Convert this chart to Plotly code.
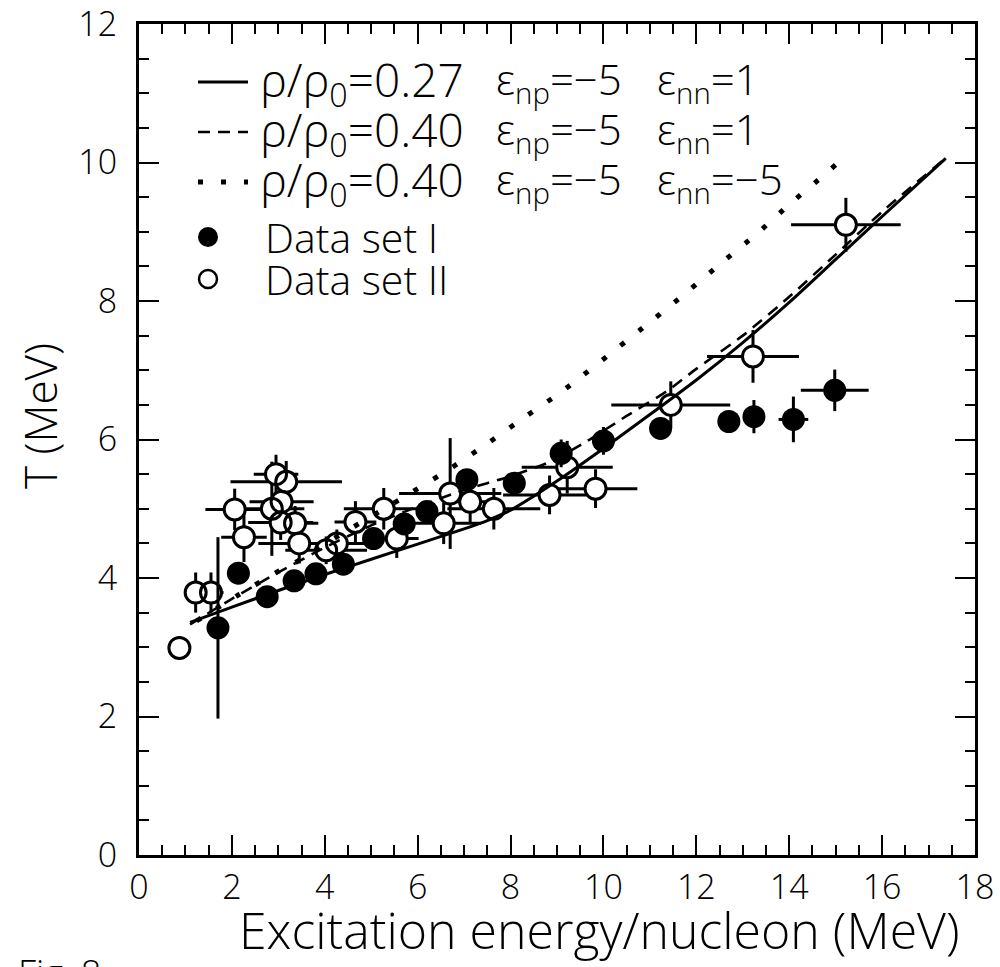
import plotly.graph_objects as go

# ---------------- data ----------------
set1_x = [1.70, 2.14, 2.76, 3.34, 3.81, 4.40, 5.05, 5.71, 6.20, 7.06, 8.08, 9.09, 10.00, 11.23, 12.70, 13.24, 14.09, 14.98]
set1_y = [3.28, 4.07, 3.73, 3.96, 4.06, 4.20, 4.57, 4.78, 4.96, 5.42, 5.37, 5.80, 5.98, 6.16, 6.26, 6.33, 6.29, 6.71]
set1_ex = [0, 0, 0, 0, 0, 0, 0, 0, 0, 0, 0, 0, 0, 0, 0, 0, 0.32, 0.73]
set1_ey = [1.31, 0, 0, 0, 0, 0, 0, 0, 0, 0, 0, 0.20, 0.20, 0, 0, 0.24, 0.33, 0.30]

set2_x = [0.87, 1.22, 1.55, 2.06, 2.26, 2.95, 3.17, 2.86, 3.07, 3.05, 3.36, 3.45, 4.03, 4.26, 4.66,
          5.27, 5.55, 6.56, 6.70, 7.13, 7.64, 8.84, 9.22, 9.83, 11.45, 13.22, 15.22]
set2_y = [2.99, 3.79, 3.79, 4.99, 4.59, 5.50, 5.39, 5.00, 5.10, 4.80, 4.79, 4.50, 4.40, 4.50, 4.81,
          5.00, 4.57, 4.79, 5.22, 5.10, 5.00, 5.20, 5.60, 5.29, 6.50, 7.20, 9.10]
set2_ex = [0, 0.22, 0.27, 0.63, 0.49, 0.48, 1.20, 0.70, 0.69, 0.70, 0.50, 0.88, 0.88, 0.68, 0.45,
           0.86, 0.47, 0.80, 1.10, 0.50, 1.00, 1.00, 0.98, 0.90, 1.28, 0.99, 1.18]
set2_ey = [0, 0.29, 0.29, 0.30, 0.36, 0.28, 0.30, 0.68, 0.25, 0.25, 0.25, 0.29, 0.20, 0.20, 0.30,
           0.30, 0.28, 0.30, 0.80, 0.30, 0.30, 0.28, 0.38, 0.28, 0.34, 0.38, 0.39]

solid_x = [1.1, 2, 3, 4, 5, 6, 7, 7.5, 8, 9, 10, 11, 12, 13, 14, 15, 16, 17.37]
solid_y = [3.36, 3.58, 3.82, 4.05, 4.27, 4.49, 4.71, 4.83, 4.98, 5.40, 5.87, 6.36, 6.86, 7.40, 7.98, 8.60, 9.22, 10.06]

dashed_x = [1.1, 2, 3, 4, 5, 6, 7, 8, 8.86, 9.63, 10.5, 11.37, 12, 13, 14, 15, 16, 17.4]
dashed_y = [3.33, 3.70, 4.08, 4.44, 4.76, 5.03, 5.27, 5.47, 5.68, 5.97, 6.34, 6.70, 7.02, 7.50, 8.06, 8.67, 9.29, 10.08]

dotted_x = [1.24, 2.10, 2.93, 3.36, 4.20, 5.88, 6.70, 7.52, 8.32, 9.12, 11.03, 11.80, 12.54, 13.30, 14.03, 14.77, 15.14]
dotted_y = [3.38, 3.74, 4.07, 4.22, 4.57, 5.24, 5.58, 5.95, 6.33, 6.70, 7.71, 8.13, 8.55, 8.97, 9.41, 9.83, 10.05]

x_ticks = [0, 2, 4, 6, 8, 10, 12, 14, 16, 18]
y_ticks = [0, 2, 4, 6, 8, 10, 12]

legend_rows = [
    ("solid", "ρ/ρ<sub>0</sub>=0.27", "ε<sub>np</sub>=−5", "ε<sub>nn</sub>=1"),
    ("dash", "ρ/ρ<sub>0</sub>=0.40", "ε<sub>np</sub>=−5", "ε<sub>nn</sub>=1"),
    ("dot", "ρ/ρ<sub>0</sub>=0.40", "ε<sub>np</sub>=−5", "ε<sub>nn</sub>=−5"),
]
marker_rows = [("filled", "Data set I"), ("open", "Data set II")]

# ---------------- layout geometry ----------------
W, H = 1000, 967
L, R, T, B = 139, 975, 24, 855
PW, PH = R - L, B - T


def px(xp):
    return (xp - L) / PW


def py(yp):
    return (B - yp) / PH


FONT = "Open Sans, Liberation Sans, sans-serif"
WT = 300
DASH = "12px,8px"
DOT = "5px,18px"

fig = go.Figure()

# open circles: error bars + white fill
fig.add_trace(go.Scatter(
    x=set2_x, y=set2_y, mode="markers",
    marker=dict(symbol="circle", size=22, color="white", line=dict(width=0)),
    error_x=dict(type="data", array=set2_ex, thickness=3, width=0, color="black"),
    error_y=dict(type="data", array=set2_ey, thickness=3, width=0, color="black"),
    showlegend=False, hoverinfo="skip"))

# filled circles
fig.add_trace(go.Scatter(
    x=set1_x, y=set1_y, mode="markers",
    marker=dict(symbol="circle", size=23, color="black", line=dict(width=0)),
    error_x=dict(type="data", array=set1_ex, thickness=3, width=0, color="black"),
    error_y=dict(type="data", array=set1_ey, thickness=3, width=0, color="black"),
    showlegend=False, hoverinfo="skip"))

# open circle outlines
fig.add_trace(go.Scatter(
    x=set2_x, y=set2_y, mode="markers",
    marker=dict(symbol="circle-open", size=21, color="black", line=dict(width=3, color="black")),
    showlegend=False, hoverinfo="skip"))

# curves
fig.add_trace(go.Scatter(x=solid_x, y=solid_y, mode="lines",
                         line=dict(color="black", width=3, shape="spline", smoothing=0.6),
                         showlegend=False, hoverinfo="skip"))
fig.add_trace(go.Scatter(x=dashed_x, y=dashed_y, mode="lines",
                         line=dict(color="black", width=2.6, dash=DASH, shape="spline", smoothing=0.6),
                         showlegend=False, hoverinfo="skip"))
fig.add_trace(go.Scatter(x=dotted_x, y=dotted_y, mode="lines",
                         line=dict(color="black", width=5, dash=DOT, shape="spline", smoothing=0.6),
                         showlegend=False, hoverinfo="skip"))

axis_common = dict(
    showline=True, linecolor="black", linewidth=3, mirror="allticks",
    ticks="inside", ticklen=20, tickwidth=2, tickcolor="black",
    showgrid=False, zeroline=False, automargin=False, ticklabeloverflow="allow",
    tickfont=dict(family=FONT, size=34, color="black", weight=WT),
    minor=dict(ticks="inside", ticklen=10, tickwidth=1.5, tickcolor="black", dtick=0.5, showgrid=False),
)

fig.update_layout(
    width=W, height=H,
    margin=dict(l=L, r=W - R, t=T, b=H - B, autoexpand=False),
    paper_bgcolor="white", plot_bgcolor="white",
    xaxis=dict(range=[0, 18], tickvals=x_ticks, ticktext=[str(v) for v in x_ticks], **axis_common),
    yaxis=dict(range=[0, 12], tickvals=y_ticks, ticktext=[str(v) for v in y_ticks],
               ticklabelstandoff=12, **axis_common),
    showlegend=False,
)

ann = []
shapes = []
row_y = [82, 132, 182]
col_x = [258, 494, 655]
col_size = [46, 42, 42]
for i, (style, a, b, c) in enumerate(legend_rows):
    yv = py(row_y[i])
    dash = {"solid": "solid", "dash": DASH, "dot": DOT}[style]
    wid = {"solid": 3, "dash": 2.6, "dot": 5}[style]
    shapes.append(dict(type="line", xref="paper", yref="paper",
                       x0=px(198), x1=px(248), y0=yv, y1=yv,
                       line=dict(color="black", width=wid, dash=dash)))
    for txt, cx, fs in zip((a, b, c), col_x, col_size):
        ann.append(dict(text=txt, xref="paper", yref="paper", x=px(cx), y=yv,
                        xanchor="left", yanchor="middle", showarrow=False,
                        font=dict(family=FONT, size=fs, color="black", weight=WT)))

mrow_y = [237, 279]
for (kind, txt), yy in zip(marker_rows, mrow_y):
    r = 10 if kind == "filled" else 9
    shapes.append(dict(type="circle", xref="paper", yref="paper",
                       x0=px(208 - r), x1=px(208 + r), y0=py(yy + r), y1=py(yy - r),
                       fillcolor="black" if kind == "filled" else "white",
                       line=dict(color="black", width=0 if kind == "filled" else 2.5)))
    ann.append(dict(text=txt, xref="paper", yref="paper", x=px(263), y=py(yy),
                    xanchor="left", yanchor="middle", showarrow=False,
                    font=dict(family=FONT, size=41, color="black", weight=WT)))

# axis titles
ann.append(dict(text="Excitation energy/nucleon (MeV)", xref="paper", yref="paper",
                x=px(599), y=py(930), xanchor="center", yanchor="middle", showarrow=False,
                font=dict(family=FONT, size=50, color="black", weight=WT)))
ann.append(dict(text="T (MeV)", xref="paper", yref="paper",
                x=px(40), y=py(416), xanchor="center", yanchor="middle", showarrow=False,
                textangle=-90, font=dict(family=FONT, size=44, color="black", weight=WT)))
ann.append(dict(text="Fig. 8", xref="paper", yref="paper",
                x=px(16), y=py(946), xanchor="left", yanchor="top", showarrow=False,
                font=dict(family=FONT, size=36, color="black", weight=WT)))

fig.update_layout(annotations=ann, shapes=shapes)
fig.write_html("out.html")
